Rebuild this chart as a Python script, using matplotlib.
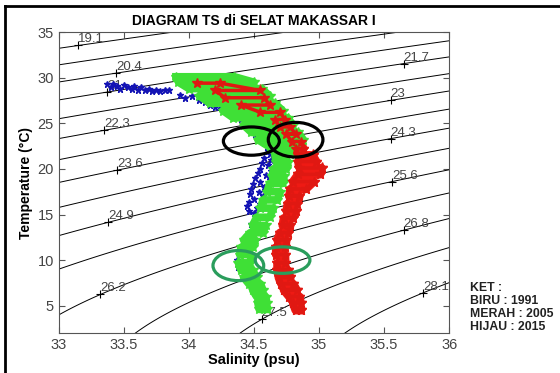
import numpy as np
import matplotlib
matplotlib.use('Agg')
from matplotlib import pyplot as plt
from matplotlib.patches import Ellipse
from matplotlib.lines import Line2D

plt.rcParams['font.family'] = ['Liberation Sans', 'DejaVu Sans']

# isopycnal levels (sigma-t) and where their labels sit
levels = [19.100, 19.745, 20.390, 21.035, 21.680, 22.326, 22.971, 23.616,
          24.261, 24.906, 25.551, 26.196, 26.841, 27.486, 28.131]
label_lvl = [19.100, 20.390, 21.035, 22.326, 23.616, 24.906, 26.196, 27.486,
             21.680, 22.971, 24.261, 25.551, 26.841, 28.131]
label_sal = [33.15, 33.44, 33.37, 33.35, 33.45, 33.38, 33.32, 34.56,
             35.65, 35.55, 35.55, 35.56, 35.65, 35.80]

# 1991 (biru) - single casts points
biru_S = [33.37, 33.40, 33.42, 33.45, 33.47, 33.50, 33.53, 33.56, 33.58, 33.61,
          33.63, 33.66, 33.69, 33.72, 33.75, 33.78, 33.82, 33.85,
          33.93, 33.97, 34.02, 34.08, 34.12, 34.16, 34.20, 34.24, 34.27, 34.31,
          34.34, 34.37, 34.40, 34.43, 34.45, 34.47, 34.49, 34.51, 34.53, 34.56,
          34.58, 34.60, 34.61, 34.62,
          34.58, 34.63, 34.56, 34.61, 34.55, 34.63, 34.53, 34.59, 34.51, 34.62,
          34.55, 34.49, 34.58, 34.48, 34.54, 34.47, 34.57, 34.50, 34.46, 34.55,
          34.45, 34.52, 34.46, 34.50,
          34.48, 34.44, 34.40, 34.37, 34.38, 34.42, 34.47, 34.51, 34.53]
biru_T = [29.3, 29.0, 29.3, 29.1, 28.8, 29.2, 29.0, 28.8, 29.1, 28.7,
          29.0, 28.6, 28.8, 28.5, 28.7, 28.5, 28.6, 28.6,
          28.1, 27.8, 28.0, 27.5, 27.3, 27.0, 26.8, 26.9, 26.5, 26.3,
          26.0, 25.8, 25.5, 25.2, 24.9, 24.5, 24.2, 23.8, 23.5, 23.2,
          22.8, 22.4, 22.0, 21.6,
          21.2, 21.0, 20.6, 20.4, 20.0, 19.8, 19.5, 19.3, 19.0, 18.8,
          18.6, 18.3, 18.0, 17.8, 17.5, 17.2, 17.0, 16.7, 16.4, 16.2,
          15.9, 15.7, 15.4, 15.2,
          14.0, 12.6, 11.2, 10.0, 9.2, 8.3, 7.4, 6.4, 5.3]

# 2015 (hijau) - profile band: temperature rows with left/right salinity edge
hijau_T = [30.1, 29.5, 28.8, 28.0, 27.2, 26.4, 25.6, 24.8, 24.0, 23.2, 22.4, 21.6,
           20.8, 20.0, 19.2, 18.4, 17.5, 16.6, 15.7, 14.7, 13.8, 13.0, 12.2, 11.4,
           10.6, 9.7, 8.9, 8.1, 7.4, 6.7, 6.0, 5.3, 4.6]
hijau_S1 = [33.90, 33.92, 34.00, 34.08, 34.16, 34.26, 34.34, 34.42, 34.48, 34.53, 34.62, 34.66,
            34.67, 34.65, 34.64, 34.62, 34.60, 34.57, 34.55, 34.52, 34.49, 34.47, 34.42, 34.40,
            34.39, 34.38, 34.40, 34.42, 34.46, 34.49, 34.52, 34.53, 34.54]
hijau_S2 = [34.35, 34.50, 34.56, 34.62, 34.66, 34.72, 34.76, 34.80, 34.84, 34.88, 34.82, 34.78,
            34.76, 34.75, 34.73, 34.72, 34.70, 34.68, 34.65, 34.62, 34.59, 34.57, 34.51, 34.49,
            34.48, 34.47, 34.49, 34.52, 34.55, 34.57, 34.59, 34.60, 34.60]

# 2005 (merah)
merah_T = [29.4, 28.6, 27.8, 27.0, 26.2, 25.4, 24.6, 23.8, 23.0, 22.2, 21.5, 20.8,
           20.1, 19.4, 18.6, 17.8, 17.0, 16.2, 15.4, 14.6, 13.8, 13.0, 12.2, 11.4,
           10.6, 9.7, 8.9, 8.1, 7.4, 6.7, 6.0, 5.3, 4.5]
merah_S1 = [34.06, 34.20, 34.28, 34.40, 34.55, 34.66, 34.70, 34.75, 34.79, 34.82, 34.84, 34.84,
            34.85, 34.84, 34.80, 34.78, 34.77, 34.76, 34.75, 34.73, 34.72, 34.70, 34.68, 34.67,
            34.67, 34.68, 34.68, 34.69, 34.71, 34.73, 34.77, 34.80, 34.82]
merah_S2 = [34.24, 34.55, 34.58, 34.62, 34.70, 34.74, 34.78, 34.82, 34.86, 34.88, 34.95, 34.98,
            35.02, 35.01, 34.96, 34.90, 34.85, 34.83, 34.82, 34.80, 34.78, 34.76, 34.75, 34.74,
            34.74, 34.74, 34.76, 34.78, 34.80, 34.83, 34.85, 34.86, 34.86]


def sigma_t(S, T):
    # UNESCO 1983 density at the sea surface, minus 1000
    rw = (999.842594 + 6.793952e-2*T - 9.095290e-3*T**2 + 1.001685e-4*T**3
          - 1.120083e-6*T**4 + 6.536332e-9*T**5)
    A = 8.24493e-1 - 4.0899e-3*T + 7.6438e-5*T**2 - 8.2467e-7*T**3 + 5.3875e-9*T**4
    B = -5.72466e-3 + 1.0227e-4*T - 1.6546e-6*T**2
    C = 4.8314e-4
    return rw + A*S + B*S**1.5 + C*S**2 - 1000


def serpentine(T, S1, S2):
    # walk the band row by row, alternating sides
    ss, tt = [], []
    for i in range(len(T)):
        a, b = (S1[i], S2[i]) if i % 2 == 0 else (S2[i], S1[i])
        ss += [a, b]
        tt += [T[i], T[i]]
    return ss, tt


fig = plt.figure(figsize=(5.6, 3.73), dpi=100)
ax = fig.add_axes([0.105, 0.107, 0.697, 0.807])

Sg, Tg = np.meshgrid(np.linspace(32.9, 36.1, 200), np.linspace(0, 36, 200))
ax.contour(Sg, Tg, sigma_t(Sg, Tg), levels=levels, colors='k', linewidths=0.7)

tgrid = np.linspace(0, 36, 721)
for lv, s in zip(label_lvl, label_sal):
    sg = sigma_t(s, tgrid)
    t = np.interp(lv, sg[::-1], tgrid[::-1])
    ax.plot(s, t, '+', color='k', ms=6, mew=0.8)
    ax.annotate('%.3g' % lv, (s, t), xytext=(0, 0), textcoords='offset points',
                fontsize=9.5, color='#444444', ha='left', va='bottom')

ax.plot(biru_S, biru_T, '*', color='#1414b4', ms=5, zorder=3)
ms_, mt = serpentine(merah_T, merah_S1, merah_S2)
ax.plot(ms_, mt, '-*', color='#ee1a14', lw=6, ms=8, zorder=4)
hs, ht = serpentine(hijau_T, hijau_S1, hijau_S2)
ax.plot(hs, ht, '-*', color='#3fe036', lw=5.5, ms=7, zorder=5)
# 2005 casts that show through the 2015 cloud near the surface
ax.plot(ms_, mt, '-*', color='#e01812', lw=2.5, ms=7, zorder=5.5)

# highlighted water masses
for c, w, h, col in [((34.48, 23.05), 0.43, 3.1, 'k'), ((34.82, 23.2), 0.42, 3.8, 'k'),
                     ((34.38, 9.4), 0.39, 3.3, '#2a9d5c'), ((34.72, 10.0), 0.42, 2.9, '#2a9d5c')]:
    ax.add_patch(Ellipse(c, w, h, fill=False, ec=col, lw=2.3, zorder=6))

ax.set_xlim(33, 36)
ax.set_ylim(2, 35)
ax.set_xticks([33, 33.5, 34, 34.5, 35, 35.5, 36])
ax.set_xticklabels(['33', '33.5', '34', '34.5', '35', '35.5', '36'])
ax.set_yticks([5, 10, 15, 20, 25, 30, 35])
ax.tick_params(direction='in', top=True, right=True, length=4, labelsize=10.5,
               labelcolor='#444444', color='#555555')
for sp in ax.spines.values():
    sp.set_color('#555555')
ax.set_title('DIAGRAM TS di SELAT MAKASSAR I', fontsize=10, fontweight='bold', pad=5)
ax.set_xlabel('Salinity (psu)', fontsize=10.5, fontweight='bold', labelpad=1)
ax.set_ylabel('Temperature (\u00b0C)', fontsize=10, fontweight='bold', labelpad=3)

fig.text(0.839, 0.243, 'KET :\nBIRU : 1991\nMERAH : 2005\nHIJAU : 2015',
         fontsize=8.8, fontweight='bold', color='#222222', va='top', linespacing=1.1)

# frame lines on the left and top
fig.add_artist(Line2D([0.009, 0.009], [0, 0.985], transform=fig.transFigure, color='k', lw=2))
fig.add_artist(Line2D([0.009, 1], [0.985, 0.985], transform=fig.transFigure, color='k', lw=2))

fig.savefig('out.png', dpi=100)
